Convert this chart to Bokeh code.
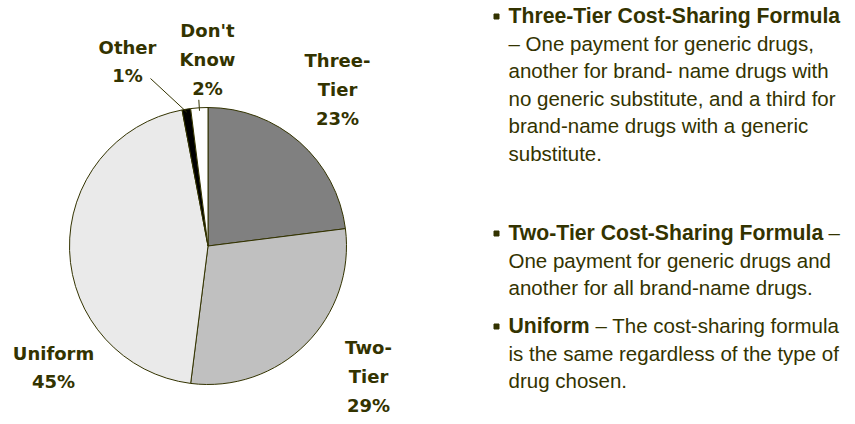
import math
from bokeh.plotting import figure
from bokeh.models import Range1d, ColumnDataSource
from bokeh.embed import file_html
from bokeh.resources import INLINE
from bokeh.core.properties import value

# ---- data ----
categories = ["Three-Tier", "Two-Tier", "Uniform", "Other", "Don't Know"]
label_names = ["Three-\nTier", "Two-\nTier", "Uniform", "Other", "Don't\nKnow"]
shares = [23, 29, 45, 1, 2]
colors = ["#808080", "#C0C0C0", "#EAEAEA", "#000000", "#FFFFFF"]

bullet_heads = ["Three-Tier Cost-Sharing Formula",
                "Two-Tier Cost-Sharing Formula",
                "Uniform"]
bullet_tails = ["", "\u2013", "\u2013 The cost-sharing formula"]
bullet_lines = [
    ["\u2013 One payment for generic drugs,",
     "another for brand- name drugs with",
     "no generic substitute, and a third for",
     "brand-name drugs with a generic",
     "substitute."],
    ["One payment for generic drugs and",
     "another for all brand-name drugs."],
    ["is the same regardless of the type of",
     "drug chosen."],
]

# ---- layout ----
W, H = 847, 416
def X(sx): return sx
def Y(sy): return H - sy

TXT = "#333300"
cx, cy, R = X(207.5), Y(245.5), 138.5

p = figure(width=W, height=H, x_range=Range1d(0, W), y_range=Range1d(0, H),
           output_backend="svg", toolbar_location=None, min_border=0)
p.axis.visible = False
p.grid.visible = False
p.outline_line_color = None
p.background_fill_color = "white"

total = float(sum(shares))
starts, ends, mids = [], [], []
cum = 0.0
for s in shares:
    a_end = math.pi / 2 - 2 * math.pi * cum / total
    a_start = math.pi / 2 - 2 * math.pi * (cum + s) / total
    starts.append(a_start)
    ends.append(a_end)
    mids.append((a_start + a_end) / 2)
    cum += s

src = ColumnDataSource(dict(start=starts, end=ends, color=colors, cat=categories))
p.wedge(x=cx, y=cy, radius=R, start_angle="start", end_angle="end",
        fill_color="color", line_color=TXT, line_width=1, source=src)

# labels
label_pos = {"Three-Tier": (337, 89), "Two-Tier": (368, 376), "Uniform": (53, 367),
             "Other": (127, 61), "Don't Know": (207, 59)}
lx = [X(label_pos[c][0]) for c in categories]
ly = [Y(label_pos[c][1]) for c in categories]
ltxt = [f"{n}\n{v}%" for n, v in zip(label_names, shares)]
p.text(x=lx, y=ly, text=ltxt, text_align="center", text_baseline="middle",
       text_font=value("DejaVu Sans"), text_font_style="bold",
       text_font_size="18px", text_color=TXT, text_line_height=1.38)

# leader lines
i_o = categories.index("Other")
m = mids[i_o]
p.line([cx + (R - 3) * math.cos(m), lx[i_o] + 23], [cy + (R - 3) * math.sin(m), ly[i_o] - 17],
       line_color=TXT, line_width=1)
i_d = categories.index("Don't Know")
m = mids[i_d]
p.line([cx + (R - 3) * math.cos(m), cx + (R + 8) * math.cos(m)],
       [cy + (R - 3) * math.sin(m), cy + (R + 8) * math.sin(m)],
       line_color=TXT, line_width=1)

# bullet text
FS = "20.5px"
FSB = "21.2px"
tx = X(508)
block_top = [15, 232, 325]
LH = 27.5
tail_x = [None, X(828), X(595)]
for b in range(3):
    y0 = block_top[b]
    p.scatter([X(496)], [Y(y0 + 1)], marker="square", size=5, color=TXT)
    p.text([tx], [Y(y0)], text=[bullet_heads[b]], text_font=value("Liberation Sans"),
           text_font_style="bold", text_font_size=FSB, text_color=TXT,
           text_baseline="middle", text_align="left")
    if bullet_tails[b]:
        p.text([tail_x[b]], [Y(y0)], text=[bullet_tails[b]], text_font=value("Liberation Sans"),
               text_font_size=FS, text_color=TXT, text_baseline="middle", text_align="left")
    ys = [Y(y0 + LH * (k + 1)) for k in range(len(bullet_lines[b]))]
    p.text([tx] * len(ys), ys, text=bullet_lines[b], text_font=value("Liberation Sans"),
           text_font_size=FS, text_color=TXT, text_baseline="middle", text_align="left")

open("out.html", "w").write(file_html(p, INLINE))
